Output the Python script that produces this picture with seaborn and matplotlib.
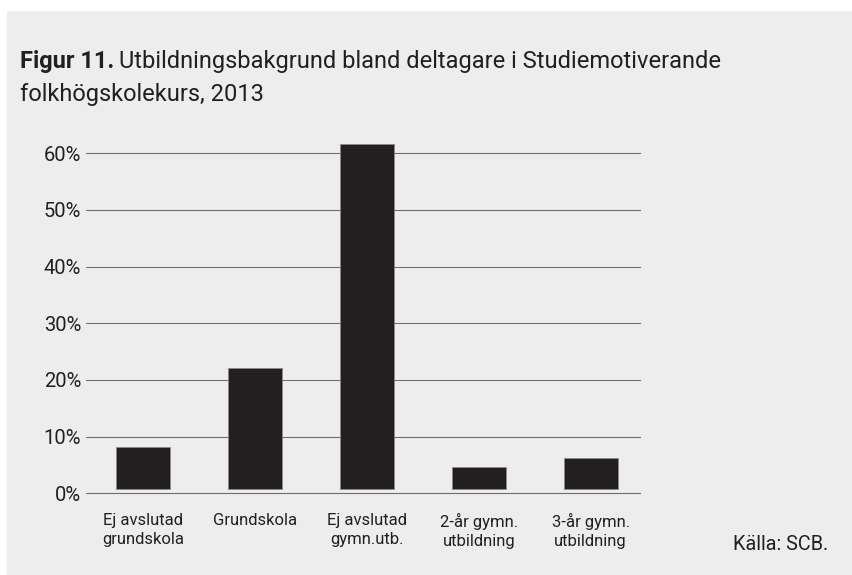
"""
Figur 11 - utbildningsbakgrund bland deltagare i Studiemotiverande folkhögskolekurs, 2013
"""
import matplotlib
matplotlib.use("Agg")
import matplotlib.pyplot as plt
from matplotlib.patches import Rectangle
import pandas as pd
import seaborn as sns

sns.set_style("white")
plt.rcParams['font.family'] = ['Roboto', 'DejaVu Sans']

# ---------------------------------------------------------------
# Data
# ---------------------------------------------------------------
categories = ["Ej avslutad\ngrundskola", "Grundskola", "Ej avslutad\ngymn.utb.",
              "2-år gymn.\nutbildning", "3-år gymn.\nutbildning"]
shares = [7.5, 21.4, 61.0, 4.0, 5.6]
yticks = [0, 10, 20, 30, 40, 50, 60]
ytick_labels = [f"{t}%" for t in yticks]

BG = "#ededed"
BAR = "#231f20"
GRID = "#6e6e6e"
TEXT = "#231f20"
BAR_LIFT = 0.7   # bars sit slightly above the 0% line in the original

df = pd.DataFrame({"cat": categories, "share": shares})

fig = plt.figure(figsize=(8.52, 5.75), dpi=100)
fig.patch.set_facecolor("white")
fig.patches.append(Rectangle((7 / 852, 0), 1, 1 - 11 / 575, transform=fig.transFigure,
                             facecolor=BG, edgecolor="none", zorder=-10))

# y range -1..62 at 5.667 px per percent, 0% line at y=493 px
px = 5.667
ax = fig.add_axes([86 / 852, 1 - (493.3 + 1 * px) / 575, 555 / 852, 63 * px / 575])
ax.patch.set_alpha(0)

sns.barplot(data=df, x="cat", y="share", color=BAR, width=0.48, saturation=1,
            edgecolor="#8a8a8a", linewidth=0.6, bottom=BAR_LIFT, ax=ax, zorder=3)

ax.set_ylim(-1, 62)
ax.set_xlim(-0.51, 4.45)
ax.set_yticks(yticks)
ax.set_yticklabels(ytick_labels)
for t in yticks:
    ax.axhline(t, color=GRID, linewidth=0.8, zorder=1)
for s in ax.spines.values():
    s.set_visible(False)
ax.tick_params(axis="y", length=0, pad=3.5, labelsize=14.5, labelcolor=TEXT)
ax.tick_params(axis="x", length=0, pad=10, labelsize=12, labelcolor=TEXT)
for lab in ax.get_xticklabels():
    lab.set_linespacing(1.35)
ax.set_xlabel("")
ax.set_ylabel("")

# title: bold lead + regular text
renderer = fig.canvas.get_renderer()
t1 = fig.text(20 / 852, 1 - 68 / 575, "Figur 11.", fontsize=17, fontweight="bold",
              color=TEXT, va="baseline", ha="left")
bb = t1.get_window_extent(renderer)
fig.text((bb.x1 + 5) / 852, 1 - 68 / 575,
         "Utbildningsbakgrund bland deltagare i Studiemotiverande",
         fontsize=17, color=TEXT, va="baseline", ha="left")
fig.text(20 / 852, 1 - 101 / 575, "folkhögskolekurs, 2013", fontsize=17,
         color=TEXT, va="baseline", ha="left")

fig.text(733 / 852, 1 - 550 / 575, "Källa: SCB.", fontsize=14.3, color=TEXT,
         va="baseline", ha="left")

plt.savefig("out.png", dpi=100, facecolor=fig.get_facecolor())
plt.close()
